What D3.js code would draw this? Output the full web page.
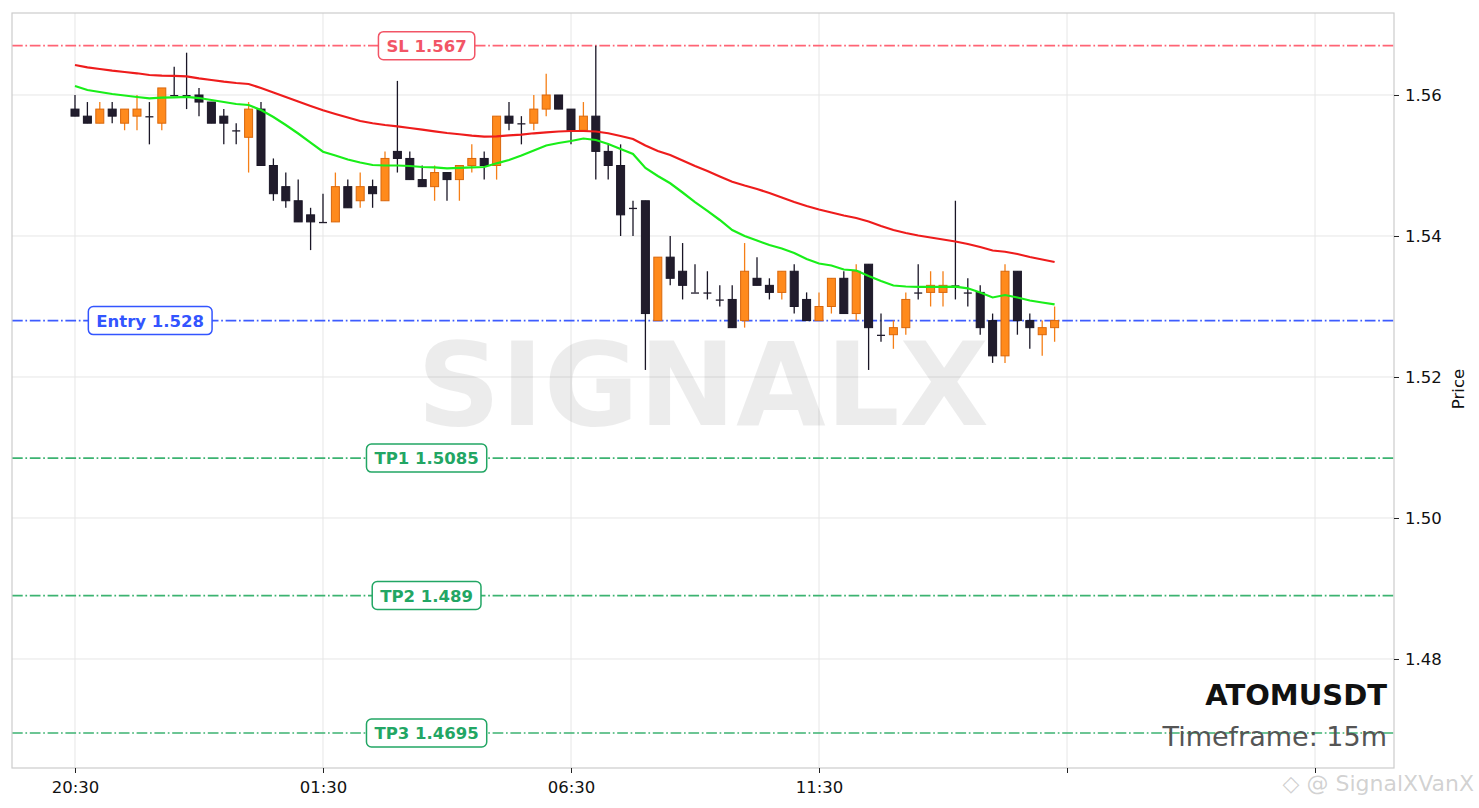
<!DOCTYPE html>
<html><head><meta charset="utf-8">
<script src="https://cdn.jsdelivr.net/npm/d3@7/dist/d3.min.js"></script>
<style>body{margin:0;background:#fff}svg{display:block}text{font-family:"DejaVu Sans",sans-serif}</style>
</head><body><svg id="c" width="1479" height="808"></svg>
<script>
// ---- data (15m candles, starting 20:30) ----
const openP=[1.558,1.557,1.556,1.558,1.556,1.557,1.557,1.556,1.560,1.560,
1.560,1.559,1.557,1.555,1.554,1.558,1.550,1.547,1.545,1.543,
1.542,1.542,1.547,1.545,1.547,1.545,1.552,1.551,1.548,1.547,
1.549,1.548,1.550,1.551,1.550,1.557,1.556,1.556,1.558,1.560,
1.558,1.555,1.557,1.552,1.550,1.544,1.545,1.528,1.537,1.535,
1.532,1.532,1.531,1.531,1.528,1.534,1.533,1.532,1.535,1.531,
1.528,1.530,1.534,1.529,1.536,1.526,1.526,1.527,1.532,1.532,
1.532,1.533,1.532,1.532,1.528,1.523,1.535,1.528,1.526,1.527];
const closeP=[1.557,1.556,1.558,1.557,1.558,1.558,1.557,1.561,1.560,1.560,
1.559,1.556,1.556,1.555,1.558,1.550,1.546,1.545,1.542,1.542,
1.542,1.547,1.544,1.547,1.546,1.551,1.551,1.548,1.547,1.549,
1.548,1.550,1.551,1.550,1.557,1.556,1.556,1.558,1.560,1.558,
1.555,1.557,1.552,1.550,1.543,1.544,1.529,1.537,1.534,1.533,
1.532,1.532,1.531,1.527,1.535,1.533,1.532,1.535,1.530,1.528,
1.530,1.534,1.529,1.535,1.527,1.526,1.527,1.531,1.532,1.533,
1.533,1.533,1.532,1.527,1.523,1.535,1.528,1.527,1.527,1.528];
const highP=[1.560,1.559,1.559,1.559,1.558,1.560,1.559,1.561,1.564,1.566,
1.561,1.559,1.558,1.556,1.559,1.559,1.551,1.549,1.548,1.544,
1.546,1.549,1.548,1.549,1.548,1.552,1.562,1.552,1.550,1.550,
1.549,1.550,1.553,1.552,1.557,1.559,1.557,1.560,1.563,1.560,
1.558,1.559,1.567,1.553,1.553,1.545,1.545,1.537,1.540,1.539,
1.536,1.535,1.533,1.533,1.539,1.537,1.534,1.535,1.536,1.532,
1.532,1.534,1.535,1.536,1.536,1.529,1.528,1.532,1.536,1.535,
1.535,1.545,1.534,1.533,1.529,1.536,1.535,1.529,1.528,1.530];
const lowP=[1.557,1.556,1.556,1.556,1.555,1.555,1.553,1.555,1.560,1.558,
1.557,1.556,1.553,1.553,1.549,1.550,1.545,1.544,1.542,1.538,
1.542,1.542,1.544,1.544,1.544,1.545,1.549,1.548,1.547,1.545,
1.545,1.545,1.549,1.548,1.548,1.555,1.553,1.555,1.557,1.558,
1.553,1.555,1.548,1.548,1.540,1.540,1.521,1.528,1.533,1.531,
1.532,1.531,1.530,1.527,1.527,1.533,1.531,1.531,1.529,1.528,
1.528,1.529,1.529,1.528,1.521,1.525,1.524,1.526,1.531,1.530,
1.530,1.531,1.530,1.526,1.522,1.522,1.526,1.524,1.523,1.525];
const emaSlow=[1.56426,1.56393,1.56369,1.56345,1.56326,1.56308,1.56284,1.56274,1.56270,1.56265,
1.56237,1.56213,1.56189,1.56170,1.56156,1.56099,1.56035,1.55972,1.55908,1.55844,
1.55783,1.55730,1.55681,1.55631,1.55599,1.55574,1.55556,1.55532,1.55508,1.55485,
1.55461,1.55443,1.55423,1.55409,1.55414,1.55426,1.55437,1.55457,1.55471,1.55482,
1.55489,1.55489,1.55482,1.55457,1.55418,1.55376,1.55284,1.55206,1.55149,1.55071,
1.54993,1.54922,1.54844,1.54770,1.54716,1.54667,1.54610,1.54546,1.54482,1.54426,
1.54376,1.54333,1.54291,1.54255,1.54206,1.54142,1.54085,1.54043,1.54007,1.53979,
1.53950,1.53922,1.53887,1.53844,1.53794,1.53777,1.53745,1.53702,1.53667,1.53631];
const emaFast=[1.56128,1.56071,1.56043,1.56014,1.55993,1.55972,1.55953,1.55962,1.55967,1.55972,
1.55957,1.55929,1.55901,1.55872,1.55858,1.55787,1.55688,1.55574,1.55454,1.55326,
1.55196,1.55142,1.55085,1.55043,1.55007,1.55000,1.55000,1.54993,1.54979,1.54972,
1.54960,1.54965,1.54972,1.54979,1.55031,1.55078,1.55142,1.55213,1.55284,1.55319,
1.55348,1.55383,1.55362,1.55305,1.55234,1.55163,1.54965,1.54851,1.54748,1.54617,
1.54482,1.54355,1.54227,1.54085,1.54000,1.53936,1.53872,1.53823,1.53759,1.53674,
1.53610,1.53582,1.53525,1.53511,1.53433,1.53362,1.53298,1.53284,1.53277,1.53277,
1.53277,1.53281,1.53258,1.53199,1.53128,1.53163,1.53128,1.53085,1.53057,1.53031];
const levelNames=["SL","Entry","TP1","TP2","TP3"];
const levelValues=[1.567,1.528,1.5085,1.489,1.4695];
const levelColors=["#f25566","#3355ff","#22a664","#22a664","#22a664"];
const levelLineColors=["#ff6475","#3d5cff","#3cb371","#3cb371","#3cb371"];
const levelLabelPos=[0.3,0.1,0.3,0.3,0.3];
const xTickIdx=[0,20,40,60,80,100];
const xTickLabels=["20:30","01:30","06:30","11:30","",""];
const yTicks=[1.48,1.50,1.52,1.54,1.56];
const symbol="ATOMUSDT", timeframe="Timeframe: 15m";

// ---- layout ----
const L=12,R=1394,T=13,B=768;
const svg=d3.select("#c");
svg.append("rect").attr("width",1479).attr("height",808).attr("fill","#fff");
const x=d3.scaleLinear().domain([-5.08,106.37]).range([L,R]);
const y=d3.scaleLinear().domain([1.464539,1.571631]).range([B,T]);

// grid
const g=svg.append("g");
g.selectAll(".vg").data(xTickIdx).join("line").attr("x1",d=>x(d)).attr("x2",d=>x(d)).attr("y1",T).attr("y2",B).attr("stroke","#e6e6e6").attr("stroke-width",1);
g.selectAll(".hg").data(yTicks).join("line").attr("x1",L).attr("x2",R).attr("y1",d=>y(d)).attr("y2",d=>y(d)).attr("stroke","#e6e6e6").attr("stroke-width",1);

// watermark
svg.append("text").attr("x",(L+R)/2).attr("y",425).attr("text-anchor","middle").attr("font-size",116).attr("font-weight","bold").attr("fill","#000").attr("fill-opacity",0.075).text("SIGNALX");

// level lines
svg.selectAll(".lvl").data(levelValues).join("line").attr("x1",L).attr("x2",R).attr("y1",d=>y(d)).attr("y2",d=>y(d))
  .attr("stroke",(d,i)=>levelLineColors[i]).attr("stroke-width",1.7).attr("stroke-dasharray","10.7,2.7,1.7,2.7");

// candles
const idx=d3.range(openP.length);
const up=i=>closeP[i]>openP[i];
const cg=svg.append("g");
cg.selectAll(".wick").data(idx).join("line").attr("x1",i=>x(i)).attr("x2",i=>x(i)).attr("y1",i=>y(highP[i])).attr("y2",i=>y(lowP[i]))
  .attr("stroke",i=>up(i)?"#f57f17":"#1a1626").attr("stroke-width",1.3);
cg.selectAll(".body").data(idx).join("rect").attr("x",i=>x(i)-4).attr("width",8)
  .attr("y",i=>Math.min(y(openP[i]),y(closeP[i]))).attr("height",i=>Math.max(1.3,Math.abs(y(openP[i])-y(closeP[i]))))
  .attr("fill",i=>up(i)?"#ff8a1c":"#211c2c").attr("stroke",i=>up(i)?"#d9670c":"#1a1626").attr("stroke-width",i=>openP[i]===closeP[i]?0:1);

// EMA lines
const line=d3.line().x((d,i)=>x(i)).y(d=>y(d));
svg.append("path").attr("d",line(emaSlow)).attr("fill","none").attr("stroke","#ee1c1c").attr("stroke-width",2.2);
svg.append("path").attr("d",line(emaFast)).attr("fill","none").attr("stroke","#19ee19").attr("stroke-width",2.2);

// frame
svg.append("rect").attr("x",L).attr("y",T).attr("width",R-L).attr("height",B-T).attr("fill","none").attr("stroke","#cccccc").attr("stroke-width",1.2);

// axes
const xa=svg.append("g").attr("transform",`translate(0,${B})`).call(d3.axisBottom(x).tickValues(xTickIdx).tickFormat((d,i)=>xTickLabels[i]).tickSize(5).tickPadding(8));
const ya=svg.append("g").attr("transform",`translate(${R},0)`).call(d3.axisRight(y).tickValues(yTicks).tickFormat(d3.format(".2f")).tickSize(5).tickPadding(6));
[xa,ya].forEach(a=>{a.select(".domain").remove();a.selectAll("text").attr("font-family","DejaVu Sans").attr("font-size",16.5).attr("fill","#111");a.selectAll(".tick line").attr("stroke","#222");});
svg.append("text").attr("transform","translate(1464,389) rotate(-90)").attr("text-anchor","middle").attr("font-size",16.5).attr("fill","#111").text("Price");

// level labels
levelValues.forEach((v,i)=>{
  const cx=L+(R-L)*levelLabelPos[i], cy=y(v);
  const lg=svg.append("g");
  const t=lg.append("text").attr("x",cx).attr("y",cy+6).attr("text-anchor","middle").attr("font-size",16.5).attr("font-weight","bold").attr("fill",levelColors[i])
    .text(levelNames[i]+" "+v);
  const bb=t.node().getBBox();
  lg.insert("rect","text").attr("x",bb.x-8).attr("y",cy-14).attr("width",bb.width+16).attr("height",28).attr("rx",5)
    .attr("fill","#fff").attr("stroke",levelColors[i]).attr("stroke-width",1.5);
});

// titles
svg.append("text").attr("x",1387).attr("y",705).attr("text-anchor","end").attr("font-size",29).attr("font-weight","bold").attr("fill","#111").text(symbol);
svg.append("text").attr("x",1387).attr("y",746).attr("text-anchor","end").attr("font-size",27).attr("fill","#555").text(timeframe);
// platform watermark
svg.append("text").attr("x",1474).attr("y",791).attr("text-anchor","end").attr("font-size",22).attr("fill","#999").attr("fill-opacity",0.45).text("◇ @ SignalXVanX");
</script></body></html>
